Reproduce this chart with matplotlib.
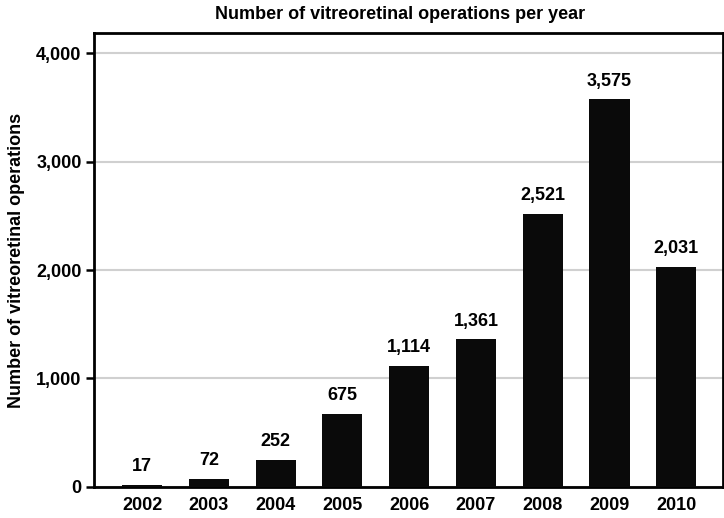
import matplotlib.pyplot as plt
from matplotlib.ticker import FuncFormatter

years = ["2002", "2003", "2004", "2005", "2006", "2007", "2008", "2009", "2010"]
operations = [17, 72, 252, 675, 1114, 1361, 2521, 3575, 2031]
yticks = [0, 1000, 2000, 3000, 4000]

plt.rcParams['font.family'] = ['Liberation Sans', 'DejaVu Sans']

fig = plt.figure(figsize=(7.24, 5.18), dpi=100)
ax = fig.add_axes([0.130, 0.060, 0.8686, 0.876])

x = range(len(years))
bars = ax.bar(x, operations, width=0.6, color="#0a0a0a", zorder=3)

for b, v in zip(bars, operations):
    ax.annotate(f"{v:,}", (b.get_x() + b.get_width() / 2, v),
                xytext=(0, 7), textcoords="offset points",
                ha="center", va="bottom", fontsize=13, fontweight="bold")

ax.set_xlim(-0.72, 8.7)
ax.set_ylim(0, 4185)
ax.set_xticks(list(x))
ax.set_xticklabels(years)
ax.set_yticks(yticks)
ax.yaxis.set_major_formatter(FuncFormatter(lambda v, p: f"{int(v):,}"))

ax.tick_params(axis="x", length=0, pad=7, labelsize=13)
ax.tick_params(axis="y", length=6, width=1.8, direction="out", pad=3, labelsize=13)
for lbl in ax.get_xticklabels() + ax.get_yticklabels():
    lbl.set_fontweight("bold")

ax.grid(axis="y", color="#d0d0d0", linewidth=1.5, zorder=0)
for s in ax.spines.values():
    s.set_linewidth(2)

ax.set_ylabel("Number of vitreoretinal operations", fontsize=13, fontweight="bold", labelpad=8)
fig.suptitle("Number of vitreoretinal operations per year", fontsize=13, fontweight="semibold",
             x=0.552, y=0.988, va="top")

fig.savefig("out.png", dpi=100)
